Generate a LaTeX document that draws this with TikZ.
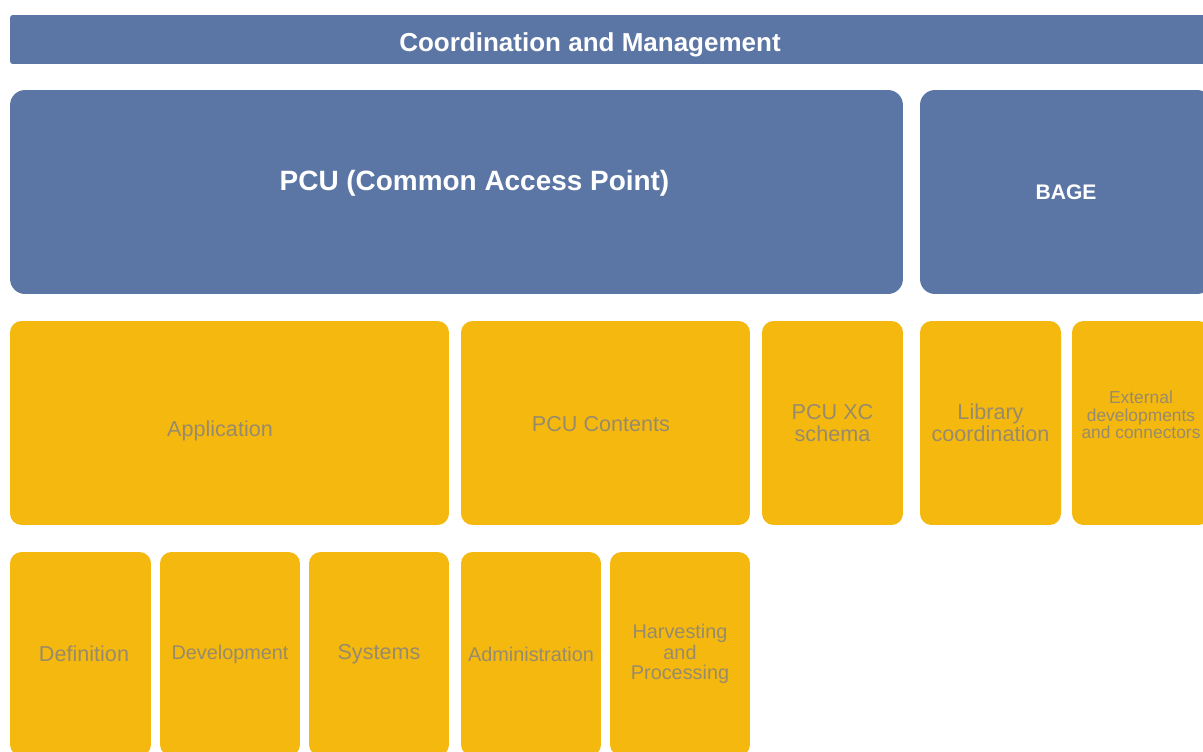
\documentclass[tikz,border=0pt]{standalone}
\usepackage{fontspec}
\setmainfont{Liberation Sans}
\usetikzlibrary{positioning}
\definecolor{pcublue}{HTML}{5B76A5}
\definecolor{pcuyellow}{HTML}{F5B80F}
\definecolor{pcugray}{HTML}{978B6B}
\tikzset{
  bar/.style={fill=pcublue, rounded corners=1.5pt, inner sep=0pt,
    minimum width=24.1cm, minimum height=0.98cm},
  bartext/.style={text=white, font=\fontsize{14.8}{17}\selectfont\bfseries},
  head/.style={fill=pcublue, rounded corners=8.5pt, inner sep=0pt, text=white,
    minimum height=4.08cm},
  task/.style={fill=pcuyellow, rounded corners=6.5pt, inner sep=0pt, text=pcugray,
    align=center, minimum height=4.08cm, font=\fontsize{12.3}{12.5}\selectfont},
  tasktext/.style={text=pcugray, font=\fontsize{12.3}{13}\selectfont},
  narrow/.style={font=\fontsize{11.3}{11.7}\selectfont},
  tiny/.style={text=pcugray, align=center, font=\fontsize{9.9}{10}\selectfont}
}

\begin{document}
\begin{tikzpicture}[x=0.02cm, y=-0.02cm]
    \clip (0,0) rectangle (1203,751);

    % Management bar
    \node[bar, label={[bartext, xshift=-0.45cm, yshift=-0.1cm]center:Coordination and Management}]
      (mgmt) at (612.5,39.5) {};

    % Access point and BAGE
    \node[head, minimum width=17.86cm,
      label={[text=white, font=\fontsize{15.9}{18}\selectfont\bfseries, xshift=0.36cm, yshift=0.18cm]center:PCU (Common Access Point)}]
      (pcu) at (456.5,192) {};
    \node[head, minimum width=5.84cm, font=\fontsize{12}{14}\selectfont\bfseries]
      (bage) at (1066,192) {BAGE};

    % First row of areas
    \node[task, minimum width=8.78cm, label={[tasktext, xshift=-0.19cm, yshift=-0.16cm]center:Application}]
      (app) at (229.5,423) {};
    \node[task, minimum width=5.78cm, label={[tasktext, xshift=-0.09cm, yshift=-0.03cm]center:PCU Contents}]
      (contents) at (605.5,423) {};
    \node[task, minimum width=2.82cm] (schema) at (832.5,423) {PCU XC\\schema};
    \node[task, minimum width=2.82cm] (library) at (990.5,423) {Library\\coordination};
    \node[task, minimum width=2.76cm,
      label={[tiny, yshift=0.16cm]center:External\\developments\\and connectors}]
      (external) at (1141,423) {};

    % Second row of tasks
    \node[task, minimum width=2.82cm] (def) at (80.5,654) {\hspace{0.14cm}Definition};
    \foreach \name/\x/\txt in {dev/230/Development, admin/531/Administration,
        harvest/680/{Harvesting\\and\\Processing}} {
        \node[task, narrow, minimum width=2.8cm] (\name) at (\x,654) {\txt};
    }
    \node[task, minimum width=2.8cm] (sys) at (379,654) {Systems};

    \end{tikzpicture}
\end{document}
